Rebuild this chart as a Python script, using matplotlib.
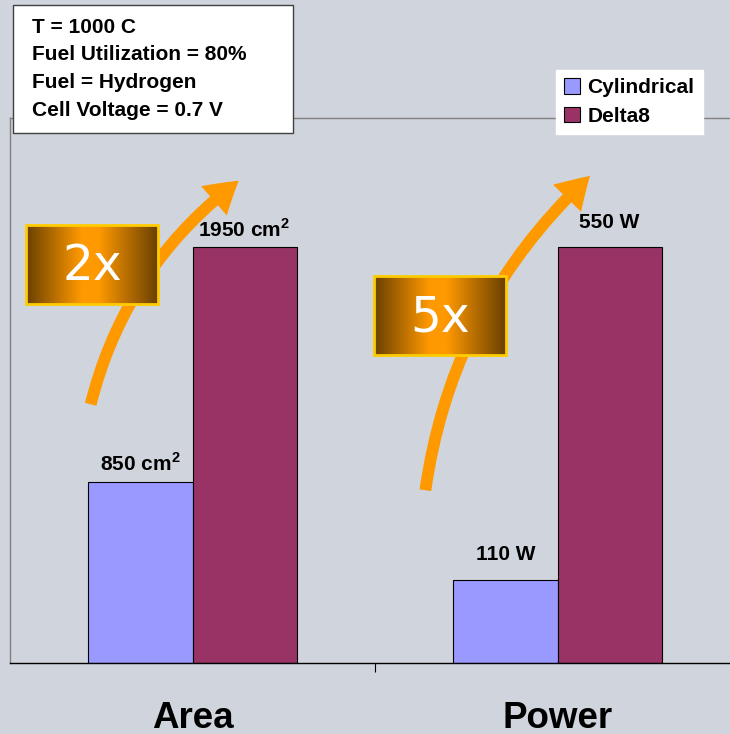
import numpy as np
import matplotlib
matplotlib.use('Agg')
import matplotlib.pyplot as plt
from matplotlib.patches import FancyArrowPatch, Rectangle
from matplotlib.colors import LinearSegmentedColormap

plt.rcParams['font.family'] = ['Liberation Sans', 'DejaVu Sans']
plt.rcParams['mathtext.fontset'] = 'custom'
plt.rcParams['mathtext.rm'] = 'Liberation Sans'
plt.rcParams['mathtext.bf'] = 'Liberation Sans:bold'

# data
categories = ['Area', 'Power']
series_names = ['Cylindrical', 'Delta8']
cylindrical = [850, 110]
delta8 = [1950, 550]
units = [r'cm$^{\mathbf{2}}$', 'W']
ratios = ['2x', '5x']
conditions = ['T = 1000 C', 'Fuel Utilization = 80%',
              'Fuel = Hydrogen', 'Cell Voltage = 0.7 V']

BG = '#D0D4DC'
C_CYL = '#9999FF'
C_D8 = '#993366'
ORANGE = '#FF9900'

# each category is drawn on its own scale (Delta8 bar = 1)
cyl_norm = np.array(cylindrical) / np.array(delta8)
d8_norm = np.array(delta8) / np.array(delta8)

fig = plt.figure(figsize=(7.3, 7.34), dpi=100, facecolor=BG)
ax = fig.add_axes([10/730, 71/734, 730/730, 545/734])
ax.set_facecolor(BG)

x = np.arange(len(categories))
w = 0.285
b1 = ax.bar(x - w/2, cyl_norm, w, color=C_CYL, edgecolor='black', linewidth=0.8, label=series_names[0])
b2 = ax.bar(x + w/2, d8_norm, w, color=C_D8, edgecolor='black', linewidth=0.8, label=series_names[1])

for i in range(len(categories)):
    off = 7.5 if i == 0 else 14
    ax.annotate(f'{cylindrical[i]} {units[i]}', (x[i] - w/2, cyl_norm[i]),
                xytext=(0, off), textcoords='offset points', ha='center', va='baseline',
                fontsize=15, fontweight='bold')
    ax.annotate(f'{delta8[i]} {units[i]}', (x[i] + w/2, d8_norm[i]),
                xytext=(0, off - 0.5), textcoords='offset points', ha='center', va='baseline',
                fontsize=15, fontweight='bold')

ax.set_xlim(-0.5, 1.5)
ax.set_ylim(0, 1.31)
ax.set_yticks([])
ax.set_xticks(x)
ax.set_xticklabels(categories, fontsize=26.5, fontweight='bold')
ax.tick_params(axis='x', which='major', length=0, pad=27)
ax.set_xticks([0.5], minor=True)
ax.tick_params(axis='x', which='minor', length=6.5, width=0.8, color='black')
for s in ['left', 'top']:
    ax.spines[s].set_color('#808080')
    ax.spines[s].set_linewidth(1)
ax.spines['right'].set_visible(False)
ax.spines['bottom'].set_color('black')
ax.spines['bottom'].set_linewidth(1)

# overlay in pixel coordinates for annotations
oax = fig.add_axes([0, 0, 1, 1], zorder=3)
oax.patch.set_visible(False)
oax.axis('off')

# conditions box
oax.add_patch(Rectangle((13, 5), 280, 128, facecolor='white', edgecolor='#404040', linewidth=1))
for k, line in enumerate(conditions):
    oax.text(32, 33 + 27.5 * k, line, fontsize=15, fontweight='bold', va='baseline', ha='left')

# growth arrows and ratio boxes
arrows = [((90, 407), (241, 179)), ((425, 493), (592, 174))]
boxes = [(26, 225, 132, 79), (374, 276, 132, 79)]
grad = LinearSegmentedColormap.from_list(
    'g', [(0, '#6A4000'), (0.42, ORANGE), (0.55, ORANGE), (1, '#6A4000')])
gvals = np.linspace(0, 1, 256).reshape(1, -1)
for (p0, p1), (bx, by, bw, bh), r in zip(arrows, boxes, ratios):
    arr = FancyArrowPatch(p0, p1, connectionstyle='arc3,rad=-0.18',
                          arrowstyle='simple,head_length=23,head_width=28,tail_width=8.5',
                          color=ORANGE, linewidth=0, zorder=2)
    oax.add_patch(arr)
    oax.imshow(gvals, cmap=grad, extent=(bx, bx + bw, by + bh, by), aspect='auto', zorder=3)
    oax.add_patch(Rectangle((bx, by), bw, bh, facecolor='none', edgecolor='#FFCC00', linewidth=2, zorder=4))
    oax.text(bx + bw/2, by + bh/2 + 2, r, color='white', fontsize=35, family='DejaVu Sans',
             ha='center', va='center', zorder=5)

oax.set_xlim(0, 730)
oax.set_ylim(734, 0)

leg = fig.legend(handles=[b1, b2], loc='upper left', bbox_to_anchor=(556/730, 1 - 70/734),
                 prop={'weight': 'bold', 'size': 15}, frameon=True, fancybox=False,
                 edgecolor='white', facecolor='white', framealpha=1,
                 handlelength=0.75, handleheight=0.75, handletextpad=0.35, labelspacing=0.45,
                 borderpad=0.4, borderaxespad=0)
leg.set_zorder(10)

fig.savefig('out.png', dpi=100, facecolor=BG)
